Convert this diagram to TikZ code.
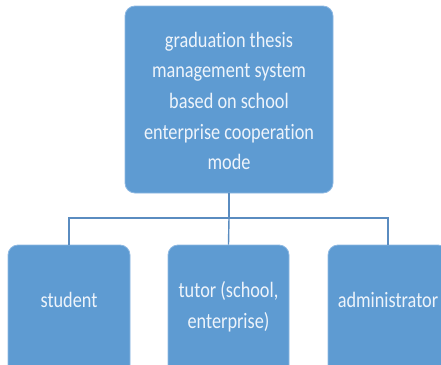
\documentclass[tikz,border=0pt]{standalone}
\usepackage{fontspec}
\setmainfont{Carlito}[FakeStretch=0.83,Ligatures={NoCommon}]
\definecolor{boxblue}{HTML}{5E9BD2}
\definecolor{boxedge}{HTML}{8DB8E2}
\definecolor{linkblue}{HTML}{5A8CC0}
\definecolor{txt}{HTML}{EEF4FB}
\begin{document}
\begin{tikzpicture}[x=1pt,y=-1pt,
  bluebox/.style={draw=boxedge,line width=0.8pt,fill=boxblue,rounded corners=10pt,inner sep=0pt},
  lbl/.style={text=txt,font=\fontsize{22}{30.7}\selectfont,align=center,inner sep=0pt},
  link/.style={draw=linkblue,line width=1.4pt}]
\useasboundingbox (0,0) rectangle (441,364);
\clip (0,0) rectangle (441,364);
\node[bluebox,minimum width=208pt,minimum height=187pt] (top) at (229,99.5) {};
\node[lbl] (toptext) at (229,101) {graduation thesis\\management system\\based on school\\enterprise cooperation\\mode};
\node[bluebox,minimum width=122pt,minimum height=140pt] (student) at (69,315) {};
\node[bluebox,minimum width=121pt,minimum height=140pt] (tutor) at (228.5,315) {};
\node[bluebox,minimum width=120pt,minimum height=140pt] (admin) at (388,315) {};
\node[lbl] (studenttext) at (69,300) {student};
\node[lbl] (tutortext) at (228.5,307) {tutor (school,\\enterprise)};
\node[lbl] (admintext) at (388,300) {administrator};
\coordinate (hub) at (229,218);
\draw[link] (top.south) -- (hub);
\draw[link] (hub) -| (student.north);
\draw[link] (hub) -| (admin.north);
\draw[link] (hub) -- (tutor.north);
\end{tikzpicture}
\end{document}
